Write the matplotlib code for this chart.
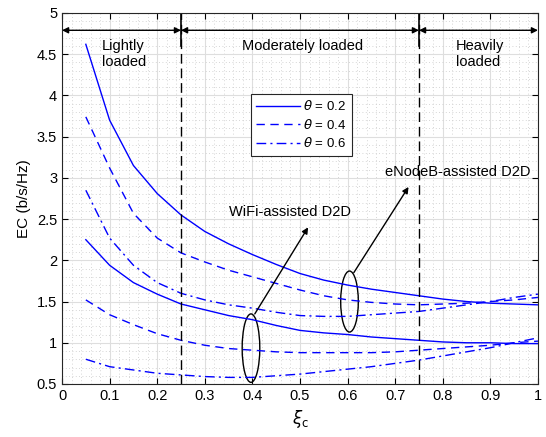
import matplotlib.pyplot as plt
from matplotlib.patches import Ellipse
from matplotlib.ticker import MultipleLocator

plt.rcParams['font.family'] = ['Liberation Sans', 'DejaVu Sans']
plt.rcParams['mathtext.fontset'] = 'dejavusans'

# load factor xi_c
xi = [0.05, 0.10, 0.15, 0.20, 0.25, 0.30, 0.35, 0.40, 0.45, 0.50,
      0.55, 0.60, 0.65, 0.70, 0.75, 0.80, 0.85, 0.90, 0.95, 1.00]

# eNodeB-assisted D2D
enb_02 = [4.62, 3.70, 3.15, 2.81, 2.55, 2.35, 2.20, 2.07, 1.95, 1.84,
          1.76, 1.70, 1.65, 1.61, 1.57, 1.53, 1.50, 1.48, 1.47, 1.46]
enb_04 = [3.74, 3.12, 2.57, 2.27, 2.09, 1.98, 1.88, 1.80, 1.72, 1.64,
          1.57, 1.52, 1.49, 1.47, 1.46, 1.47, 1.48, 1.50, 1.52, 1.55]
enb_06 = [2.85, 2.27, 1.94, 1.73, 1.60, 1.52, 1.46, 1.42, 1.37, 1.33,
          1.32, 1.32, 1.34, 1.36, 1.38, 1.42, 1.46, 1.50, 1.55, 1.59]

# WiFi-assisted D2D
wifi_02 = [2.25, 1.94, 1.73, 1.59, 1.47, 1.40, 1.33, 1.28, 1.21, 1.15,
           1.12, 1.10, 1.07, 1.05, 1.03, 1.01, 1.00, 1.00, 0.99, 0.99]
wifi_04 = [1.52, 1.34, 1.22, 1.11, 1.03, 0.97, 0.93, 0.91, 0.89, 0.88,
           0.88, 0.88, 0.88, 0.89, 0.91, 0.93, 0.95, 0.97, 1.00, 1.02]
wifi_06 = [0.80, 0.71, 0.67, 0.63, 0.61, 0.59, 0.58, 0.58, 0.60, 0.62,
           0.65, 0.68, 0.71, 0.75, 0.79, 0.84, 0.89, 0.94, 1.00, 1.06]

thetas = ["0.2", "0.4", "0.6"]
styles = ["-", (0, (6, 4)), (0, (7, 3, 1.5, 3))]

fig = plt.figure(figsize=(5.46, 4.37), dpi=100)
ax = fig.add_axes([0.1136, 0.1213, 0.8717, 0.849])

for ys, ls, th in zip([enb_02, enb_04, enb_06], styles, thetas):
    ax.plot(xi, ys, color="blue", linestyle=ls, linewidth=1.0,
            label=r"$\theta$ = " + th)
for ys, ls in zip([wifi_02, wifi_04, wifi_06], styles):
    ax.plot(xi, ys, color="blue", linestyle=ls, linewidth=1.0)

# load regions
for xb in [0.25, 0.75]:
    ax.plot([xb, xb], [0.5, 5], color="black", linestyle=(0, (7, 3.5)), linewidth=1.0)
    ax.plot([xb, xb], [4.6, 5], color="black", linewidth=1.2)
for x0, x1 in [(0, 0.25), (0.25, 0.75), (0.75, 1.0)]:
    ax.annotate("", xy=(x1, 4.79), xytext=(x0, 4.79),
                arrowprops=dict(arrowstyle="<|-|>", color="black", lw=1.0,
                                mutation_scale=9, shrinkA=0, shrinkB=0))
ax.text(0.083, 4.5, "Lightly\nloaded", ha="left", va="center", fontsize=10.5, linespacing=1.15)
ax.text(0.505, 4.6, "Moderately loaded", ha="center", va="center", fontsize=10.5)
ax.text(0.828, 4.5, "Heavily\nloaded", ha="left", va="center", fontsize=10.5, linespacing=1.15)

# ellipses and labels
ax.add_patch(Ellipse((0.397, 0.935), 0.037, 0.83, fill=False, edgecolor="black", lw=1.0))
ax.add_patch(Ellipse((0.604, 1.50), 0.037, 0.74, fill=False, edgecolor="black", lw=1.0))
ax.annotate("", xy=(0.517, 2.40), xytext=(0.405, 1.35),
            arrowprops=dict(arrowstyle="-|>", color="black", lw=1.0,
                            mutation_scale=9, shrinkA=0, shrinkB=0))
ax.annotate("", xy=(0.728, 2.89), xytext=(0.613, 1.85),
            arrowprops=dict(arrowstyle="-|>", color="black", lw=1.0,
                            mutation_scale=9, shrinkA=0, shrinkB=0))
ax.text(0.478, 2.59, "WiFi-assisted D2D", ha="center", va="center", fontsize=10.5)
ax.text(0.832, 3.07, "eNodeB-assisted D2D", ha="center", va="center", fontsize=10.5)

ax.set_xlim(0, 1)
ax.set_ylim(0.5, 5)
ax.xaxis.set_minor_locator(MultipleLocator(0.02))
ax.yaxis.set_minor_locator(MultipleLocator(0.1))
ax.set_xticks([i / 10 for i in range(11)])
ax.set_xticklabels(["0", "0.1", "0.2", "0.3", "0.4", "0.5", "0.6", "0.7", "0.8", "0.9", "1"])
ax.set_yticks([0.5 * i for i in range(1, 11)])
ax.set_yticklabels(["0.5", "1", "1.5", "2", "2.5", "3", "3.5", "4", "4.5", "5"])
ax.tick_params(which="major", direction="in", top=True, right=True, length=4,
               labelsize=10.5, width=0.8)
ax.tick_params(which="minor", length=0)
ax.grid(which="major", color="#dedede", linewidth=0.8)
ax.grid(which="minor", color="#c8c8c8", linestyle=(0, (1, 3)), linewidth=0.6)
ax.set_axisbelow(True)
for s in ax.spines.values():
    s.set_linewidth(0.8)
    s.set_color("#262626")

ax.set_xlabel(r"$\xi_\mathrm{c}$", fontsize=12)
ax.set_ylabel("EC (b/s/Hz)", fontsize=11)

leg = ax.legend(loc="upper left", bbox_to_anchor=(0.397, 0.782), fontsize=9.5,
                handlelength=3.3, fancybox=False, framealpha=1, edgecolor="#262626",
                borderpad=0.4, labelspacing=0.35, handletextpad=0.25, borderaxespad=0)
leg.get_frame().set_linewidth(0.8)

fig.savefig("out.png", dpi=100)
